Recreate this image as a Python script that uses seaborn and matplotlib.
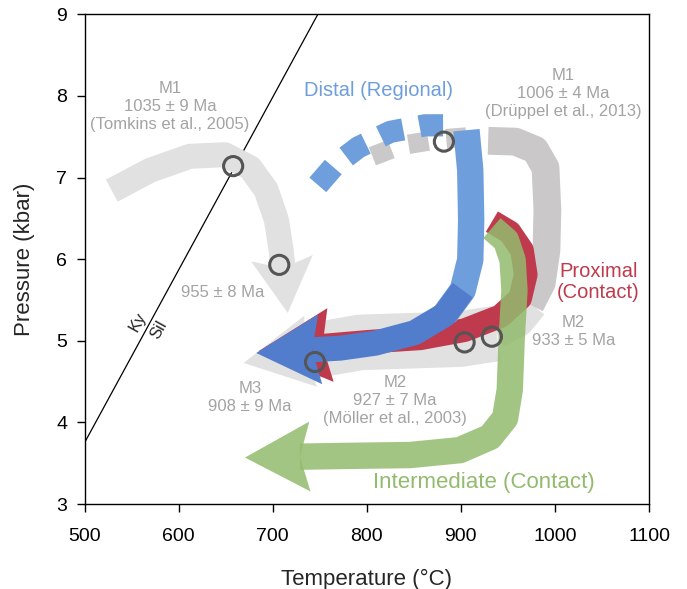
import numpy as np
import pandas as pd
import seaborn as sns
import matplotlib
matplotlib.use('Agg')
import matplotlib.pyplot as plt

sns.set_style('ticks')
plt.rcParams['font.family'] = ['Liberation Sans', 'DejaVu Sans']
plt.rcParams['lines.scale_dashes'] = False

# Ky/Sil reaction line
kysil_T = [500, 748]
kysil_P = [3.75, 9.0]

# P-T paths (temperature in C, pressure in kbar)
tomkins_T = [529, 570, 612, 649, 676, 693, 704, 709, 711]
tomkins_P = [6.84, 7.09, 7.26, 7.28, 7.12, 6.85, 6.48, 6.11, 5.89]

druppel_dash_T = [806, 835, 878, 910]
druppel_dash_P = [7.26, 7.39, 7.47, 7.50]
druppel_T = [929, 958, 979, 990, 992, 991, 986, 974]
druppel_P = [7.45, 7.44, 7.34, 7.12, 6.60, 6.11, 5.71, 5.44]
moller_T = [976, 962, 938, 899, 846, 793, 734]
moller_P = [5.44, 5.24, 5.09, 5.02, 5.00, 4.98, 4.86]

distal_dash_T = [748, 766, 791, 825, 862, 889]
distal_dash_P = [6.91, 7.15, 7.37, 7.56, 7.64, 7.64]
distal_T = [906, 910, 911, 910, 902, 883, 851, 809, 772, 742]
distal_P = [7.58, 7.09, 6.48, 5.99, 5.62, 5.32, 5.10, 4.97, 4.91, 4.89]

proximal_T = [933, 952, 965, 969, 963, 942, 904, 857, 804, 753]
proximal_P = [6.46, 6.33, 6.11, 5.81, 5.52, 5.30, 5.13, 5.03, 4.99, 4.94]

inter_T = [933, 948, 955, 957, 954, 952, 947, 931, 899, 846, 782, 729]
inter_P = [6.38, 6.23, 5.99, 5.62, 5.01, 4.40, 4.05, 3.82, 3.66, 3.60, 3.59, 3.58]

# dated points
dated_T = [658, 707, 882, 904, 933, 745]
dated_P = [7.14, 5.93, 7.44, 4.98, 5.05, 4.74]

# labels
age_texts = ['M1\n1035 ± 9 Ma\n(Tomkins et al., 2005)',
             'M1\n1006 ± 4 Ma\n(Drüppel et al., 2013)',
             '955 ± 8 Ma',
             'M3\n908 ± 9 Ma',
             'M2\n927 ± 7 Ma\n(Möller et al., 2003)',
             'M2\n933 ± 5 Ma']
age_T = [591, 1009, 647, 676, 830, 1020]
age_P = [7.87, 8.03, 5.59, 4.31, 4.27, 5.11]

path_names = ['Distal (Regional)', 'Proximal\n(Contact)', 'Intermediate (Contact)']
name_T = [812, 1046, 925]
name_P = [8.07, 5.72, 3.26]

LGRAY = '#e1e1e1'
MGRAY = '#cac8c8'
BLUE = '#6e9edb'
DBLUE = '#527dcd'
RED = '#be3a4c'
GREEN = '#93bb6e'
TXT = '#a3a3a3'

fig = plt.figure(figsize=(6.87, 5.89), dpi=100)
ax = fig.add_axes([0.123, 0.1443, 0.8217, 0.8314])
ax.set_xlim(500, 1100)
ax.set_ylim(3, 9)


def shaft(xs, ys, color, width, z, alpha=1.0, dashes=None):
    d = pd.DataFrame({'T': xs, 'P': ys})
    if dashes is None:
        kw = dict(solid_capstyle='butt', solid_joinstyle='round')
    else:
        kw = dict(linestyle=(0, dashes), dash_capstyle='butt', dash_joinstyle='round')
    sns.lineplot(data=d, x='T', y='P', sort=False, estimator=None, ax=ax,
                 color=color, lw=width, alpha=alpha, zorder=z, **kw)


def head(xs, ys, color, L, W, n, z, alpha=1.0):
    # arrow head in pixel space, placed on the end of a shaft
    pts = ax.transData.transform(np.column_stack([xs[-2:], ys[-2:]]))
    d = pts[1] - pts[0]
    d = d / np.hypot(*d)
    p = np.array([-d[1], d[0]])
    end = pts[1]
    poly = np.array([end + (L - n) * d, end - n * d + W * p, end, end - n * d - W * p])
    poly = ax.transData.inverted().transform(poly)
    ax.fill(poly[:, 0], poly[:, 1], color=color, lw=0, alpha=alpha, zorder=z)


ax.plot(kysil_T, kysil_P, color='black', lw=0.9, zorder=1)

# Tomkins path
shaft(tomkins_T, tomkins_P, LGRAY, 18, 2)
head(tomkins_T, tomkins_P, LGRAY, 55, 31, 10, 2)

# Druppel / Moller path (band widens after the turn)
shaft(moller_T[:3], moller_P[:3], LGRAY, 22, 2)
shaft(moller_T[2:], moller_P[2:], LGRAY, 40, 2)
head(moller_T, moller_P, LGRAY, 68, 36, 6, 2)
shaft(druppel_T, druppel_P, MGRAY, 20, 3)
shaft(druppel_dash_T, druppel_dash_P, MGRAY, 14, 3, dashes=(14.5, 13))

# proximal
shaft(proximal_T, proximal_P, RED, 17, 4)
head(proximal_T, proximal_P, RED, 72, 37, 8, 4)

# distal
shaft(distal_dash_T, distal_dash_P, BLUE, 16, 5, dashes=(17, 12))
shaft(distal_T[:6], distal_P[:6], BLUE, 19, 5)
shaft(distal_T[4:], distal_P[4:], DBLUE, 18, 5)
head(distal_T, distal_P, DBLUE, 64, 35, 8, 5)

# intermediate
shaft(inter_T, inter_P, GREEN, 19, 6, alpha=0.85)
head(inter_T, inter_P, GREEN, 65, 35, 10, 6, alpha=0.85)

sns.scatterplot(x=dated_T, y=dated_P, ax=ax, s=190, facecolors='none',
                edgecolor='#555555', linewidth=2.2, zorder=8)

for s, x, y in zip(age_texts, age_T, age_P):
    ax.text(x, y, s, ha='center', va='center', fontsize=12, color=TXT,
            linespacing=1.25, zorder=9)

name_colors = [BLUE, RED, GREEN]
name_sizes = [14.5, 14.5, 16]
for s, x, y, c, fs in zip(path_names, name_T, name_P, name_colors, name_sizes):
    ax.text(x, y, s, ha='center', va='center', fontsize=fs, color=c,
            linespacing=1.15, zorder=9)

ax.text(557, 5.23, 'Ky', rotation=61, ha='center', va='center', fontsize=12)
ax.text(579, 5.13, 'Sil', rotation=61, ha='center', va='center', fontsize=12)

ax.set_xticks(range(500, 1101, 100))
ax.set_yticks(range(3, 10))
ax.tick_params(direction='out', length=5.5, width=1, labelsize=14, colors='black')
ax.tick_params(axis='x', pad=12)
ax.tick_params(axis='y', pad=7)
for sp in ax.spines.values():
    sp.set_color('black')
    sp.set_linewidth(1)
ax.set_xlabel('Temperature (°C)', fontsize=16, labelpad=17)
ax.set_ylabel('Pressure (kbar)', fontsize=16, labelpad=15)

fig.savefig('out.png', dpi=100)
